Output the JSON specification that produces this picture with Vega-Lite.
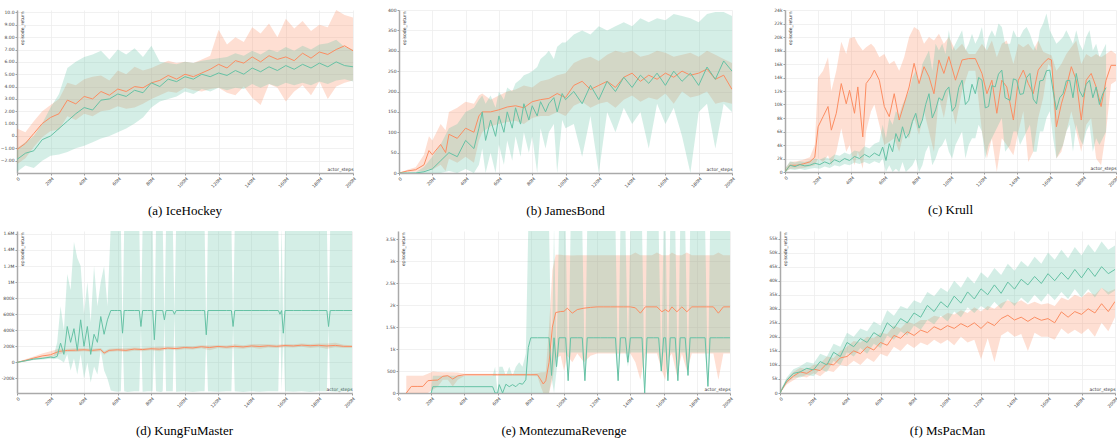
{
"$schema":"https://vega.github.io/schema/vega-lite/v6.json",
"padding":{"top":7,"left":0,"right":0,"bottom":0},
"spacing":11,
"datasets":{
"a":[
{"s":"o","x":0,"m":-1.1,"l":-2.3,"h":0.6},{"s":"o","x":5,"m":-0.6,"l":-1.8,"h":0.3},{"s":"o","x":10,"m":0.2,"l":-0.9,"h":1.2},{"s":"o","x":15,"m":1.0,"l":-0.1,"h":2.0},{"s":"o","x":20,"m":1.5,"l":0.4,"h":2.5},{"s":"o","x":25,"m":1.8,"l":0.5,"h":3.0},{"s":"o","x":30,"m":2.9,"l":1.6,"h":4.3},{"s":"o","x":35,"m":2.6,"l":1.3,"h":4.1},{"s":"o","x":40,"m":3.2,"l":1.8,"h":4.6},{"s":"o","x":45,"m":3.0,"l":1.6,"h":4.8},{"s":"o","x":50,"m":3.6,"l":2.0,"h":4.9},{"s":"o","x":55,"m":3.3,"l":2.1,"h":4.5},{"s":"o","x":60,"m":3.8,"l":2.4,"h":5.3},{"s":"o","x":65,"m":3.6,"l":2.2,"h":5.0},{"s":"o","x":70,"m":4.0,"l":2.3,"h":5.6},{"s":"o","x":75,"m":3.9,"l":2.6,"h":5.3},{"s":"o","x":80,"m":4.3,"l":3.0,"h":5.5},{"s":"o","x":85,"m":4.5,"l":3.3,"h":5.8},{"s":"o","x":90,"m":4.9,"l":3.6,"h":6.1},{"s":"o","x":95,"m":4.6,"l":3.5,"h":5.9},{"s":"o","x":100,"m":5.0,"l":3.9,"h":6.0},{"s":"o","x":105,"m":4.8,"l":3.7,"h":5.9},{"s":"o","x":110,"m":5.1,"l":3.6,"h":6.2},{"s":"o","x":115,"m":5.4,"l":3.8,"h":6.5},{"s":"o","x":120,"m":5.8,"l":3.9,"h":8.6},{"s":"o","x":125,"m":5.5,"l":3.5,"h":7.4},{"s":"o","x":130,"m":6.1,"l":3.3,"h":8.0},{"s":"o","x":135,"m":5.9,"l":4.0,"h":7.6},{"s":"o","x":140,"m":6.4,"l":3.1,"h":8.8},{"s":"o","x":145,"m":6.0,"l":2.5,"h":8.3},{"s":"o","x":150,"m":6.5,"l":4.2,"h":9.1},{"s":"o","x":155,"m":6.2,"l":3.9,"h":8.0},{"s":"o","x":160,"m":6.4,"l":2.8,"h":9.5},{"s":"o","x":165,"m":6.1,"l":3.6,"h":8.7},{"s":"o","x":170,"m":6.7,"l":4.1,"h":9.3},{"s":"o","x":175,"m":6.3,"l":3.3,"h":8.5},{"s":"o","x":180,"m":6.8,"l":4.4,"h":9.0},{"s":"o","x":185,"m":6.6,"l":3.0,"h":8.8},{"s":"o","x":190,"m":7.0,"l":4.0,"h":10.2},{"s":"o","x":195,"m":7.3,"l":4.3,"h":9.8},{"s":"o","x":200,"m":6.9,"l":4.5,"h":9.6},
{"s":"g","x":0,"m":-1.9,"l":-2.9,"h":-1.0},{"s":"g","x":5,"m":-1.4,"l":-2.4,"h":-0.5},{"s":"g","x":10,"m":-1.2,"l":-2.6,"h":0.0},{"s":"g","x":15,"m":-0.3,"l":-2.0,"h":1.0},{"s":"g","x":20,"m":0.0,"l":-1.6,"h":2.3},{"s":"g","x":25,"m":0.6,"l":-1.5,"h":3.4},{"s":"g","x":30,"m":1.2,"l":-1.3,"h":5.5},{"s":"g","x":35,"m":1.8,"l":-1.0,"h":6.0},{"s":"g","x":40,"m":2.3,"l":-0.8,"h":6.4},{"s":"g","x":45,"m":2.1,"l":-0.5,"h":6.6},{"s":"g","x":50,"m":2.9,"l":-0.2,"h":6.9},{"s":"g","x":55,"m":3.0,"l":0.0,"h":6.2},{"s":"g","x":60,"m":3.4,"l":0.3,"h":7.0},{"s":"g","x":65,"m":3.2,"l":0.6,"h":6.6},{"s":"g","x":70,"m":3.7,"l":1.0,"h":7.1},{"s":"g","x":75,"m":3.5,"l":1.5,"h":6.4},{"s":"g","x":80,"m":4.3,"l":2.3,"h":7.3},{"s":"g","x":85,"m":4.0,"l":2.8,"h":6.0},{"s":"g","x":90,"m":4.6,"l":3.0,"h":5.9},{"s":"g","x":95,"m":4.4,"l":3.2,"h":5.8},{"s":"g","x":100,"m":4.8,"l":3.6,"h":6.0},{"s":"g","x":105,"m":4.6,"l":3.4,"h":5.9},{"s":"g","x":110,"m":5.0,"l":3.8,"h":6.1},{"s":"g","x":115,"m":4.8,"l":3.6,"h":6.2},{"s":"g","x":120,"m":5.1,"l":3.9,"h":6.3},{"s":"g","x":125,"m":4.9,"l":3.7,"h":6.4},{"s":"g","x":130,"m":5.3,"l":3.9,"h":6.7},{"s":"g","x":135,"m":5.0,"l":3.8,"h":6.5},{"s":"g","x":140,"m":5.5,"l":4.2,"h":6.9},{"s":"g","x":145,"m":5.2,"l":3.9,"h":6.6},{"s":"g","x":150,"m":5.6,"l":4.2,"h":7.0},{"s":"g","x":155,"m":5.3,"l":4.0,"h":6.8},{"s":"g","x":160,"m":5.7,"l":4.3,"h":7.2},{"s":"g","x":165,"m":5.4,"l":4.1,"h":6.9},{"s":"g","x":170,"m":5.8,"l":4.3,"h":7.3},{"s":"g","x":175,"m":5.5,"l":4.1,"h":7.0},{"s":"g","x":180,"m":5.9,"l":4.4,"h":7.4},{"s":"g","x":185,"m":5.6,"l":4.2,"h":7.5},{"s":"g","x":190,"m":6.0,"l":4.5,"h":7.8},{"s":"g","x":195,"m":5.7,"l":4.6,"h":7.2},{"s":"g","x":200,"m":5.6,"l":4.4,"h":7.0}
],
"b":[
{"s":"o","x":0,"m":0,"l":0,"h":0},{"s":"o","x":5,"m":5,"l":2,"h":8},{"s":"o","x":10,"m":8,"l":3,"h":14},{"s":"o","x":15,"m":20,"l":5,"h":45},{"s":"o","x":18,"m":55,"l":10,"h":90},{"s":"o","x":20,"m":45,"l":8,"h":80},{"s":"o","x":25,"m":70,"l":20,"h":120},{"s":"o","x":28,"m":50,"l":5,"h":105},{"s":"o","x":30,"m":95,"l":35,"h":150},{"s":"o","x":35,"m":85,"l":25,"h":160},{"s":"o","x":40,"m":110,"l":40,"h":175},{"s":"o","x":45,"m":100,"l":25,"h":170},{"s":"o","x":48,"m":140,"l":80,"h":190},{"s":"o","x":50,"m":150,"l":100,"h":195},{"s":"o","x":55,"m":150,"l":115,"h":180},{"s":"o","x":60,"m":155,"l":120,"h":190},{"s":"o","x":65,"m":162,"l":125,"h":200},{"s":"o","x":70,"m":165,"l":128,"h":205},{"s":"o","x":75,"m":160,"l":120,"h":215},{"s":"o","x":80,"m":175,"l":135,"h":210},{"s":"o","x":85,"m":180,"l":140,"h":225},{"s":"o","x":90,"m":183,"l":140,"h":230},{"s":"o","x":95,"m":195,"l":150,"h":240},{"s":"o","x":100,"m":185,"l":140,"h":245},{"s":"o","x":105,"m":215,"l":165,"h":270},{"s":"o","x":110,"m":225,"l":175,"h":280},{"s":"o","x":115,"m":205,"l":160,"h":285},{"s":"o","x":120,"m":215,"l":170,"h":275},{"s":"o","x":125,"m":225,"l":175,"h":290},{"s":"o","x":130,"m":210,"l":160,"h":300},{"s":"o","x":135,"m":235,"l":180,"h":295},{"s":"o","x":140,"m":245,"l":190,"h":300},{"s":"o","x":145,"m":225,"l":175,"h":285},{"s":"o","x":150,"m":240,"l":185,"h":290},{"s":"o","x":155,"m":230,"l":180,"h":300},{"s":"o","x":160,"m":245,"l":195,"h":295},{"s":"o","x":165,"m":235,"l":170,"h":285},{"s":"o","x":170,"m":250,"l":200,"h":290},{"s":"o","x":175,"m":240,"l":185,"h":295},{"s":"o","x":180,"m":245,"l":190,"h":285},{"s":"o","x":185,"m":255,"l":200,"h":300},{"s":"o","x":190,"m":230,"l":170,"h":290},{"s":"o","x":195,"m":240,"l":175,"h":280},{"s":"o","x":200,"m":205,"l":170,"h":270},
{"s":"g","x":0,"m":0,"l":0,"h":0},{"s":"g","x":5,"m":0,"l":0,"h":0},{"s":"g","x":10,"m":0,"l":0,"h":2},{"s":"g","x":15,"m":3,"l":0,"h":15},{"s":"g","x":20,"m":10,"l":0,"h":40},{"s":"g","x":25,"m":30,"l":0,"h":70},{"s":"g","x":30,"m":50,"l":5,"h":110},{"s":"g","x":35,"m":40,"l":0,"h":120},{"s":"g","x":40,"m":80,"l":10,"h":150},{"s":"g","x":45,"m":60,"l":0,"h":160},{"s":"g","x":48,"m":110,"l":20,"h":180},{"s":"g","x":50,"m":150,"l":60,"h":190},{"s":"g","x":52,"m":80,"l":0,"h":170},{"s":"g","x":55,"m":130,"l":50,"h":190},{"s":"g","x":58,"m":90,"l":0,"h":160},{"s":"g","x":60,"m":140,"l":70,"h":200},{"s":"g","x":63,"m":100,"l":20,"h":180},{"s":"g","x":65,"m":150,"l":80,"h":210},{"s":"g","x":68,"m":110,"l":30,"h":200},{"s":"g","x":70,"m":160,"l":90,"h":220},{"s":"g","x":73,"m":120,"l":40,"h":230},{"s":"g","x":75,"m":170,"l":100,"h":240},{"s":"g","x":78,"m":130,"l":50,"h":245},{"s":"g","x":80,"m":165,"l":90,"h":250},{"s":"g","x":83,"m":140,"l":0,"h":260},{"s":"g","x":85,"m":175,"l":110,"h":280},{"s":"g","x":88,"m":150,"l":60,"h":290},{"s":"g","x":90,"m":170,"l":100,"h":300},{"s":"g","x":93,"m":185,"l":120,"h":280},{"s":"g","x":95,"m":150,"l":0,"h":310},{"s":"g","x":98,"m":195,"l":130,"h":320},{"s":"g","x":100,"m":180,"l":110,"h":320},{"s":"g","x":105,"m":200,"l":120,"h":340},{"s":"g","x":110,"m":170,"l":40,"h":350},{"s":"g","x":115,"m":215,"l":140,"h":340},{"s":"g","x":120,"m":180,"l":0,"h":360},{"s":"g","x":125,"m":225,"l":150,"h":350},{"s":"g","x":130,"m":200,"l":100,"h":360},{"s":"g","x":135,"m":235,"l":160,"h":370},{"s":"g","x":140,"m":210,"l":120,"h":360},{"s":"g","x":145,"m":240,"l":150,"h":380},{"s":"g","x":150,"m":220,"l":60,"h":370},{"s":"g","x":155,"m":245,"l":170,"h":380},{"s":"g","x":160,"m":215,"l":120,"h":375},{"s":"g","x":165,"m":250,"l":160,"h":390},{"s":"g","x":170,"m":225,"l":90,"h":385},{"s":"g","x":175,"m":245,"l":0,"h":380},{"s":"g","x":180,"m":215,"l":150,"h":370},{"s":"g","x":185,"m":260,"l":170,"h":390},{"s":"g","x":190,"m":230,"l":60,"h":395},{"s":"g","x":195,"m":275,"l":170,"h":395},{"s":"g","x":200,"m":250,"l":150,"h":385}
],
"c":[
{"s":"o","x":0,"m":0,"l":0,"h":0.5},{"s":"o","x":3,"m":1.0,"l":0.5,"h":1.5},{"s":"o","x":7,"m":1.0,"l":0.5,"h":1.6},{"s":"o","x":11,"m":1.2,"l":0.6,"h":1.8},{"s":"o","x":15,"m":1.5,"l":0.8,"h":2.2},{"s":"o","x":18,"m":2.2,"l":1.0,"h":4.0},{"s":"o","x":20,"m":6.7,"l":2.0,"h":14.0},{"s":"o","x":23,"m":8.2,"l":1.5,"h":15.0},{"s":"o","x":26,"m":9.7,"l":2.5,"h":17.0},{"s":"o","x":28,"m":6.2,"l":1.0,"h":12.0},{"s":"o","x":31,"m":8.7,"l":3.0,"h":15.0},{"s":"o","x":34,"m":13.1,"l":6.5,"h":19.3},{"s":"o","x":37,"m":10.1,"l":3.0,"h":17.5},{"s":"o","x":39,"m":12.1,"l":4.0,"h":19.8},{"s":"o","x":42,"m":8.7,"l":1.0,"h":20.0},{"s":"o","x":44,"m":12.6,"l":3.0,"h":19.0},{"s":"o","x":47,"m":5.2,"l":0.5,"h":18.0},{"s":"o","x":49,"m":13.1,"l":6.0,"h":18.5},{"s":"o","x":52,"m":14.1,"l":9.0,"h":19.0},{"s":"o","x":54,"m":15.1,"l":10.0,"h":18.5},{"s":"o","x":57,"m":13.6,"l":7.0,"h":17.0},{"s":"o","x":60,"m":9.7,"l":4.0,"h":17.5},{"s":"o","x":63,"m":8.2,"l":4.5,"h":16.0},{"s":"o","x":66,"m":11.6,"l":5.0,"h":16.5},{"s":"o","x":69,"m":7.7,"l":3.0,"h":15.0},{"s":"o","x":72,"m":10.1,"l":6.0,"h":17.0},{"s":"o","x":75,"m":12.6,"l":5.0,"h":20.0},{"s":"o","x":78,"m":16.1,"l":8.0,"h":21.5},{"s":"o","x":81,"m":13.1,"l":5.5,"h":21.0},{"s":"o","x":84,"m":15.6,"l":9.0,"h":19.0},{"s":"o","x":87,"m":14.1,"l":6.0,"h":20.0},{"s":"o","x":90,"m":11.6,"l":3.0,"h":19.5},{"s":"o","x":93,"m":16.6,"l":11.0,"h":20.5},{"s":"o","x":96,"m":14.6,"l":8.0,"h":19.0},{"s":"o","x":99,"m":17.1,"l":12.0,"h":20.0},{"s":"o","x":103,"m":13.6,"l":7.0,"h":18.0},{"s":"o","x":107,"m":16.6,"l":12.0,"h":19.0},{"s":"o","x":111,"m":16.8,"l":15.0,"h":17.5},{"s":"o","x":115,"m":16.8,"l":15.0,"h":17.5},{"s":"o","x":119,"m":14.6,"l":6.0,"h":19.0},{"s":"o","x":122,"m":11.6,"l":2.0,"h":18.0},{"s":"o","x":125,"m":13.6,"l":5.0,"h":19.5},{"s":"o","x":128,"m":8.7,"l":0.0,"h":17.0},{"s":"o","x":131,"m":13.6,"l":5.0,"h":19.0},{"s":"o","x":134,"m":12.6,"l":4.0,"h":19.5},{"s":"o","x":138,"m":7.7,"l":2.5,"h":16.0},{"s":"o","x":141,"m":13.6,"l":6.0,"h":19.0},{"s":"o","x":144,"m":15.1,"l":9.0,"h":18.5},{"s":"o","x":147,"m":13.1,"l":1.5,"h":19.0},{"s":"o","x":150,"m":11.6,"l":3.0,"h":18.0},{"s":"o","x":153,"m":15.1,"l":8.0,"h":19.5},{"s":"o","x":156,"m":16.1,"l":11.0,"h":17.8},{"s":"o","x":159,"m":16.8,"l":16.0,"h":17.5},{"s":"o","x":161,"m":16.6,"l":15.5,"h":17.3},{"s":"o","x":164,"m":6.7,"l":2.0,"h":15.0},{"s":"o","x":167,"m":10.1,"l":3.0,"h":16.0},{"s":"o","x":170,"m":12.6,"l":6.0,"h":17.5},{"s":"o","x":173,"m":15.6,"l":9.0,"h":18.5},{"s":"o","x":176,"m":13.6,"l":6.0,"h":19.5},{"s":"o","x":179,"m":7.7,"l":3.0,"h":16.0},{"s":"o","x":182,"m":13.6,"l":7.0,"h":17.5},{"s":"o","x":185,"m":14.6,"l":8.0,"h":17.0},{"s":"o","x":188,"m":12.6,"l":2.0,"h":17.5},{"s":"o","x":191,"m":9.7,"l":1.0,"h":17.0},{"s":"o","x":194,"m":13.6,"l":6.0,"h":17.5},{"s":"o","x":197,"m":15.8,"l":13.0,"h":18.0},{"s":"o","x":200,"m":15.8,"l":13.5,"h":17.5},
{"s":"g","x":0,"m":0,"l":0,"h":0.5},{"s":"g","x":3,"m":1.0,"l":0.4,"h":1.6},{"s":"g","x":6,"m":0.8,"l":0.3,"h":1.4},{"s":"g","x":9,"m":1.1,"l":0.5,"h":1.6},{"s":"g","x":12,"m":0.9,"l":0.3,"h":1.5},{"s":"g","x":15,"m":1.0,"l":0.5,"h":1.7},{"s":"g","x":18,"m":1.3,"l":0.6,"h":2.0},{"s":"g","x":21,"m":1.1,"l":0.5,"h":1.8},{"s":"g","x":24,"m":1.5,"l":0.8,"h":2.2},{"s":"g","x":27,"m":1.2,"l":0.6,"h":2.0},{"s":"g","x":30,"m":1.8,"l":1.0,"h":2.6},{"s":"g","x":33,"m":1.5,"l":0.8,"h":2.4},{"s":"g","x":36,"m":2.0,"l":1.2,"h":2.9},{"s":"g","x":39,"m":1.7,"l":1.0,"h":2.6},{"s":"g","x":42,"m":2.3,"l":1.4,"h":3.2},{"s":"g","x":45,"m":2.0,"l":1.2,"h":3.0},{"s":"g","x":48,"m":2.6,"l":1.5,"h":3.8},{"s":"g","x":51,"m":2.2,"l":1.2,"h":3.5},{"s":"g","x":54,"m":2.8,"l":1.6,"h":4.2},{"s":"g","x":57,"m":2.4,"l":1.3,"h":4.5},{"s":"g","x":59,"m":3.7,"l":2.0,"h":7.0},{"s":"g","x":61,"m":1.7,"l":0.0,"h":5.0},{"s":"g","x":63,"m":4.2,"l":1.0,"h":8.0},{"s":"g","x":65,"m":3.0,"l":0.0,"h":7.0},{"s":"g","x":67,"m":5.7,"l":0.5,"h":9.0},{"s":"g","x":69,"m":4.5,"l":0.0,"h":8.5},{"s":"g","x":71,"m":6.7,"l":1.5,"h":10.0},{"s":"g","x":73,"m":5.0,"l":0.0,"h":11.0},{"s":"g","x":75,"m":5.7,"l":0.5,"h":12.0},{"s":"g","x":77,"m":7.5,"l":1.0,"h":14.0},{"s":"g","x":79,"m":8.7,"l":2.0,"h":15.0},{"s":"g","x":81,"m":6.5,"l":0.0,"h":13.0},{"s":"g","x":83,"m":7.7,"l":1.0,"h":16.0},{"s":"g","x":85,"m":10.0,"l":3.0,"h":17.0},{"s":"g","x":87,"m":11.6,"l":4.0,"h":18.0},{"s":"g","x":89,"m":8.0,"l":1.0,"h":15.0},{"s":"g","x":91,"m":9.2,"l":2.0,"h":19.0},{"s":"g","x":93,"m":11.0,"l":3.5,"h":18.0},{"s":"g","x":95,"m":10.6,"l":4.0,"h":19.0},{"s":"g","x":97,"m":12.0,"l":5.0,"h":17.5},{"s":"g","x":99,"m":12.6,"l":3.0,"h":21.0},{"s":"g","x":101,"m":9.0,"l":2.0,"h":18.0},{"s":"g","x":103,"m":9.7,"l":4.0,"h":19.0},{"s":"g","x":105,"m":12.5,"l":5.0,"h":20.0},{"s":"g","x":107,"m":13.6,"l":6.0,"h":21.0},{"s":"g","x":109,"m":10.0,"l":2.0,"h":18.0},{"s":"g","x":111,"m":10.6,"l":4.0,"h":19.0},{"s":"g","x":113,"m":13.0,"l":5.0,"h":20.5},{"s":"g","x":115,"m":11.6,"l":5.0,"h":19.0},{"s":"g","x":117,"m":14.0,"l":7.0,"h":20.0},{"s":"g","x":119,"m":13.6,"l":6.0,"h":21.5},{"s":"g","x":121,"m":9.5,"l":2.0,"h":18.0},{"s":"g","x":123,"m":9.7,"l":4.0,"h":20.0},{"s":"g","x":125,"m":12.8,"l":5.0,"h":21.0},{"s":"g","x":127,"m":12.6,"l":6.0,"h":20.0},{"s":"g","x":129,"m":14.5,"l":7.0,"h":22.0},{"s":"g","x":131,"m":15.1,"l":8.0,"h":21.5},{"s":"g","x":133,"m":11.0,"l":3.0,"h":19.0},{"s":"g","x":136,"m":10.6,"l":4.0,"h":19.0},{"s":"g","x":138,"m":13.8,"l":6.0,"h":21.0},{"s":"g","x":140,"m":13.6,"l":6.0,"h":20.0},{"s":"g","x":142,"m":11.5,"l":4.0,"h":20.0},{"s":"g","x":144,"m":11.6,"l":5.0,"h":21.0},{"s":"g","x":146,"m":14.0,"l":6.0,"h":21.5},{"s":"g","x":148,"m":14.6,"l":7.0,"h":20.5},{"s":"g","x":150,"m":10.8,"l":3.0,"h":19.0},{"s":"g","x":152,"m":10.1,"l":3.0,"h":18.0},{"s":"g","x":154,"m":13.5,"l":6.0,"h":21.0},{"s":"g","x":156,"m":13.6,"l":6.0,"h":22.0},{"s":"g","x":158,"m":15.0,"l":8.0,"h":23.5},{"s":"g","x":160,"m":15.1,"l":9.0,"h":21.0},{"s":"g","x":162,"m":12.0,"l":5.0,"h":20.0},{"s":"g","x":164,"m":9.2,"l":2.0,"h":19.0},{"s":"g","x":166,"m":11.0,"l":3.0,"h":19.5},{"s":"g","x":168,"m":11.6,"l":4.0,"h":20.0},{"s":"g","x":170,"m":13.5,"l":6.0,"h":21.0},{"s":"g","x":172,"m":13.6,"l":7.0,"h":20.0},{"s":"g","x":174,"m":11.0,"l":3.0,"h":19.0},{"s":"g","x":176,"m":14.6,"l":7.0,"h":21.0},{"s":"g","x":178,"m":12.0,"l":5.0,"h":19.0},{"s":"g","x":180,"m":11.1,"l":4.0,"h":18.0},{"s":"g","x":182,"m":13.0,"l":6.0,"h":20.0},{"s":"g","x":184,"m":13.6,"l":7.0,"h":21.0},{"s":"g","x":186,"m":11.0,"l":3.0,"h":18.0},{"s":"g","x":188,"m":12.6,"l":5.0,"h":19.0},{"s":"g","x":190,"m":10.0,"l":4.0,"h":17.0},{"s":"g","x":192,"m":11.6,"l":5.0,"h":18.0},{"s":"g","x":194,"m":12.5,"l":6.0,"h":19.0}
],
"d":[
{"s":"o","x":0,"m":0,"l":-5,"h":5},{"s":"o","x":5,"m":25,"l":10,"h":40},{"s":"o","x":10,"m":54,"l":35,"h":75},{"s":"o","x":15,"m":80,"l":55,"h":110},{"s":"o","x":20,"m":95,"l":60,"h":140},{"s":"o","x":25,"m":137,"l":100,"h":170},{"s":"o","x":30,"m":149,"l":130,"h":170},{"s":"o","x":35,"m":152,"l":130,"h":175},{"s":"o","x":40,"m":157,"l":140,"h":175},{"s":"o","x":45,"m":150,"l":130,"h":170},{"s":"o","x":50,"m":160,"l":140,"h":180},{"s":"o","x":52,"m":116,"l":95,"h":140},{"s":"o","x":55,"m":150,"l":130,"h":170},{"s":"o","x":60,"m":157,"l":140,"h":175},{"s":"o","x":65,"m":150,"l":130,"h":175},{"s":"o","x":70,"m":166,"l":145,"h":185},{"s":"o","x":75,"m":160,"l":140,"h":180},{"s":"o","x":80,"m":170,"l":150,"h":190},{"s":"o","x":85,"m":165,"l":140,"h":195},{"s":"o","x":90,"m":178,"l":160,"h":195},{"s":"o","x":95,"m":172,"l":150,"h":195},{"s":"o","x":100,"m":185,"l":165,"h":205},{"s":"o","x":105,"m":180,"l":160,"h":200},{"s":"o","x":110,"m":195,"l":175,"h":215},{"s":"o","x":115,"m":185,"l":150,"h":210},{"s":"o","x":120,"m":199,"l":180,"h":215},{"s":"o","x":125,"m":190,"l":170,"h":210},{"s":"o","x":130,"m":200,"l":175,"h":225},{"s":"o","x":135,"m":192,"l":170,"h":215},{"s":"o","x":140,"m":205,"l":185,"h":225},{"s":"o","x":145,"m":198,"l":170,"h":230},{"s":"o","x":150,"m":207,"l":185,"h":225},{"s":"o","x":155,"m":200,"l":180,"h":220},{"s":"o","x":160,"m":210,"l":190,"h":230},{"s":"o","x":165,"m":205,"l":185,"h":225},{"s":"o","x":170,"m":215,"l":195,"h":235},{"s":"o","x":175,"m":208,"l":180,"h":230},{"s":"o","x":180,"m":213,"l":190,"h":235},{"s":"o","x":185,"m":205,"l":170,"h":235},{"s":"o","x":190,"m":212,"l":190,"h":245},{"s":"o","x":195,"m":200,"l":180,"h":220},{"s":"o","x":200,"m":199,"l":180,"h":215},
{"s":"g","x":0,"m":0,"l":-5,"h":5},{"s":"g","x":5,"m":20,"l":10,"h":30},{"s":"g","x":10,"m":41,"l":30,"h":55},{"s":"g","x":15,"m":50,"l":35,"h":65},{"s":"g","x":20,"m":66,"l":45,"h":80},{"s":"g","x":22,"m":60,"l":40,"h":90},{"s":"g","x":24,"m":75,"l":50,"h":250},{"s":"g","x":26,"m":240,"l":30,"h":700},{"s":"g","x":28,"m":100,"l":0,"h":400},{"s":"g","x":30,"m":447,"l":100,"h":1100},{"s":"g","x":32,"m":250,"l":-100,"h":900},{"s":"g","x":34,"m":420,"l":50,"h":1500},{"s":"g","x":36,"m":150,"l":-150,"h":1300},{"s":"g","x":38,"m":530,"l":100,"h":1200},{"s":"g","x":40,"m":200,"l":-200,"h":600},{"s":"g","x":42,"m":447,"l":0,"h":1000},{"s":"g","x":44,"m":100,"l":-250,"h":500},{"s":"g","x":46,"m":350,"l":-50,"h":1200},{"s":"g","x":48,"m":250,"l":-150,"h":700},{"s":"g","x":50,"m":571,"l":150,"h":1000},{"s":"g","x":52,"m":350,"l":-100,"h":1200},{"s":"g","x":54,"m":530,"l":-200,"h":700},{"s":"g","x":56,"m":646,"l":-350,"h":1700},{"s":"g","x":58,"m":646,"l":-360,"h":1700},{"s":"g","x":60,"m":646,"l":-365,"h":1700},{"s":"g","x":62,"m":646,"l":-360,"h":1700},{"s":"g","x":63,"m":364,"l":350,"h":380},{"s":"g","x":64,"m":646,"l":-360,"h":1700},{"s":"g","x":66,"m":646,"l":-370,"h":1700},{"s":"g","x":70,"m":646,"l":-360,"h":1700},{"s":"g","x":73,"m":646,"l":-360,"h":1700},{"s":"g","x":74,"m":447,"l":430,"h":460},{"s":"g","x":75,"m":646,"l":-365,"h":1700},{"s":"g","x":78,"m":646,"l":-360,"h":1700},{"s":"g","x":81,"m":646,"l":-360,"h":1700},{"s":"g","x":82,"m":282,"l":270,"h":300},{"s":"g","x":83,"m":646,"l":-360,"h":1700},{"s":"g","x":86,"m":646,"l":-370,"h":1700},{"s":"g","x":87,"m":646,"l":-360,"h":1700},{"s":"g","x":88,"m":530,"l":520,"h":540},{"s":"g","x":89,"m":646,"l":-360,"h":1700},{"s":"g","x":93,"m":646,"l":-360,"h":1700},{"s":"g","x":94,"m":600,"l":590,"h":610},{"s":"g","x":95,"m":646,"l":-365,"h":1700},{"s":"g","x":100,"m":646,"l":-360,"h":1700},{"s":"g","x":105,"m":646,"l":-370,"h":1700},{"s":"g","x":110,"m":646,"l":-360,"h":1700},{"s":"g","x":112,"m":646,"l":-360,"h":1700},{"s":"g","x":113,"m":344,"l":335,"h":355},{"s":"g","x":114,"m":646,"l":-360,"h":1700},{"s":"g","x":120,"m":646,"l":-365,"h":1700},{"s":"g","x":125,"m":646,"l":-360,"h":1700},{"s":"g","x":128,"m":646,"l":-360,"h":1700},{"s":"g","x":129,"m":447,"l":440,"h":455},{"s":"g","x":130,"m":646,"l":-360,"h":1700},{"s":"g","x":135,"m":646,"l":-370,"h":1700},{"s":"g","x":140,"m":646,"l":-360,"h":1700},{"s":"g","x":145,"m":646,"l":-365,"h":1700},{"s":"g","x":150,"m":646,"l":-360,"h":1700},{"s":"g","x":156,"m":646,"l":-360,"h":1700},{"s":"g","x":157,"m":600,"l":590,"h":610},{"s":"g","x":158,"m":646,"l":-360,"h":1700},{"s":"g","x":159,"m":364,"l":355,"h":375},{"s":"g","x":160,"m":646,"l":-360,"h":1700},{"s":"g","x":165,"m":646,"l":-365,"h":1700},{"s":"g","x":170,"m":646,"l":-360,"h":1700},{"s":"g","x":175,"m":646,"l":-370,"h":1700},{"s":"g","x":180,"m":646,"l":-360,"h":1700},{"s":"g","x":185,"m":646,"l":-360,"h":1700},{"s":"g","x":186,"m":447,"l":440,"h":455},{"s":"g","x":187,"m":646,"l":-360,"h":1700},{"s":"g","x":190,"m":646,"l":-365,"h":1700},{"s":"g","x":195,"m":646,"l":-360,"h":1700},{"s":"g","x":200,"m":646,"l":-360,"h":1700}
],
"e":[
{"s":"o","x":5,"m":0,"l":0,"h":394},{"s":"o","x":8,"m":150,"l":0,"h":394},{"s":"o","x":12,"m":150,"l":0,"h":394},{"s":"o","x":15,"m":150,"l":0,"h":394},{"s":"o","x":18,"m":280,"l":0,"h":440},{"s":"o","x":21,"m":290,"l":80,"h":490},{"s":"o","x":24,"m":295,"l":150,"h":480},{"s":"o","x":27,"m":380,"l":300,"h":470},{"s":"o","x":30,"m":394,"l":300,"h":470},{"s":"o","x":33,"m":318,"l":150,"h":470},{"s":"o","x":36,"m":390,"l":300,"h":465},{"s":"o","x":40,"m":417,"l":390,"h":440},{"s":"o","x":50,"m":417,"l":390,"h":440},{"s":"o","x":60,"m":417,"l":390,"h":440},{"s":"o","x":70,"m":417,"l":390,"h":440},{"s":"o","x":80,"m":417,"l":390,"h":440},{"s":"o","x":84,"m":417,"l":380,"h":450},{"s":"o","x":86,"m":300,"l":150,"h":470},{"s":"o","x":87.5,"m":205,"l":0,"h":470},{"s":"o","x":89,"m":280,"l":0,"h":480},{"s":"o","x":91,"m":700,"l":0,"h":1500},{"s":"o","x":93,"m":1500,"l":300,"h":2800},{"s":"o","x":95,"m":1833,"l":800,"h":3150},{"s":"o","x":98,"m":1856,"l":850,"h":3150},{"s":"o","x":100,"m":1860,"l":500,"h":3140},{"s":"o","x":102,"m":1932,"l":850,"h":3140},{"s":"o","x":105,"m":1818,"l":700,"h":3130},{"s":"o","x":108,"m":1900,"l":900,"h":3140},{"s":"o","x":112,"m":1932,"l":700,"h":3140},{"s":"o","x":116,"m":1950,"l":850,"h":3140},{"s":"o","x":120,"m":1962,"l":900,"h":3140},{"s":"o","x":124,"m":1962,"l":900,"h":3140},{"s":"o","x":128,"m":1962,"l":900,"h":3140},{"s":"o","x":132,"m":1962,"l":900,"h":3140},{"s":"o","x":136,"m":1962,"l":900,"h":3140},{"s":"o","x":140,"m":1962,"l":900,"h":3140},{"s":"o","x":143,"m":1940,"l":700,"h":3200},{"s":"o","x":146,"m":1818,"l":300,"h":3140},{"s":"o","x":149,"m":1962,"l":900,"h":3140},{"s":"o","x":153,"m":1962,"l":900,"h":3140},{"s":"o","x":156,"m":1962,"l":900,"h":3200},{"s":"o","x":159,"m":1850,"l":500,"h":3140},{"s":"o","x":161,"m":1900,"l":300,"h":3140},{"s":"o","x":163,"m":1850,"l":800,"h":3140},{"s":"o","x":165,"m":1962,"l":900,"h":3200},{"s":"o","x":168,"m":1850,"l":400,"h":3140},{"s":"o","x":171,"m":1962,"l":900,"h":3140},{"s":"o","x":174,"m":1850,"l":500,"h":3200},{"s":"o","x":177,"m":1962,"l":900,"h":3140},{"s":"o","x":182,"m":1962,"l":900,"h":3140},{"s":"o","x":186,"m":1962,"l":900,"h":3140},{"s":"o","x":190,"m":1962,"l":900,"h":3140},{"s":"o","x":193,"m":1818,"l":300,"h":3200},{"s":"o","x":196,"m":1962,"l":900,"h":3140},{"s":"o","x":200,"m":1962,"l":900,"h":3140},
{"s":"g","x":20,"m":0,"l":0,"h":100},{"s":"g","x":21,"m":144,"l":0,"h":394},{"s":"g","x":30,"m":144,"l":0,"h":394},{"s":"g","x":40,"m":144,"l":0,"h":394},{"s":"g","x":50,"m":144,"l":0,"h":394},{"s":"g","x":57,"m":144,"l":0,"h":394},{"s":"g","x":58.5,"m":0,"l":0,"h":600},{"s":"g","x":60,"m":0,"l":0,"h":0},{"s":"g","x":61,"m":190,"l":0,"h":600},{"s":"g","x":63,"m":0,"l":0,"h":600},{"s":"g","x":65,"m":200,"l":0,"h":394},{"s":"g","x":67,"m":144,"l":0,"h":600},{"s":"g","x":69,"m":190,"l":0,"h":394},{"s":"g","x":71,"m":144,"l":0,"h":600},{"s":"g","x":73,"m":220,"l":0,"h":700},{"s":"g","x":75,"m":200,"l":0,"h":600},{"s":"g","x":77,"m":300,"l":0,"h":900},{"s":"g","x":78.5,"m":1038,"l":0,"h":3800},{"s":"g","x":80,"m":1258,"l":0,"h":3800},{"s":"g","x":84,"m":1258,"l":0,"h":3800},{"s":"g","x":88,"m":1258,"l":0,"h":3800},{"s":"g","x":91,"m":1258,"l":0,"h":3800},{"s":"g","x":92.5,"m":400,"l":350,"h":450},{"s":"g","x":94,"m":1258,"l":0,"h":3800},{"s":"g","x":95.5,"m":600,"l":500,"h":700},{"s":"g","x":97,"m":1258,"l":924,"h":3800},{"s":"g","x":101,"m":1258,"l":924,"h":3800},{"s":"g","x":102.5,"m":280,"l":280,"h":280},{"s":"g","x":104,"m":1258,"l":924,"h":3800},{"s":"g","x":108,"m":1258,"l":924,"h":3800},{"s":"g","x":111,"m":1258,"l":924,"h":3800},{"s":"g","x":112.6,"m":280,"l":280,"h":280},{"s":"g","x":114,"m":1258,"l":924,"h":3800},{"s":"g","x":118,"m":1258,"l":924,"h":3800},{"s":"g","x":122,"m":1258,"l":924,"h":3800},{"s":"g","x":126,"m":1258,"l":924,"h":3800},{"s":"g","x":131,"m":1258,"l":924,"h":3800},{"s":"g","x":132.6,"m":280,"l":280,"h":280},{"s":"g","x":134,"m":1258,"l":924,"h":3800},{"s":"g","x":137,"m":1258,"l":924,"h":3800},{"s":"g","x":138.5,"m":700,"l":600,"h":800},{"s":"g","x":140,"m":1258,"l":924,"h":3800},{"s":"g","x":144,"m":1258,"l":924,"h":3800},{"s":"g","x":147,"m":1258,"l":924,"h":3800},{"s":"g","x":148.6,"m":0,"l":0,"h":0},{"s":"g","x":150,"m":1258,"l":924,"h":3800},{"s":"g","x":154,"m":1258,"l":924,"h":3800},{"s":"g","x":157,"m":1258,"l":924,"h":3800},{"s":"g","x":158.6,"m":500,"l":450,"h":550},{"s":"g","x":160,"m":1258,"l":924,"h":3800},{"s":"g","x":161.2,"m":1258,"l":924,"h":3800},{"s":"g","x":162.6,"m":280,"l":280,"h":280},{"s":"g","x":164,"m":1258,"l":924,"h":3800},{"s":"g","x":167,"m":1258,"l":924,"h":3800},{"s":"g","x":168.6,"m":280,"l":280,"h":280},{"s":"g","x":170,"m":1258,"l":924,"h":3800},{"s":"g","x":173,"m":1258,"l":924,"h":3800},{"s":"g","x":174.7,"m":400,"l":380,"h":420},{"s":"g","x":176,"m":1258,"l":924,"h":3800},{"s":"g","x":180,"m":1258,"l":924,"h":3800},{"s":"g","x":185,"m":1258,"l":924,"h":3800},{"s":"g","x":186.7,"m":150,"l":150,"h":150},{"s":"g","x":188,"m":1258,"l":924,"h":3800},{"s":"g","x":192,"m":1258,"l":924,"h":3800},{"s":"g","x":196,"m":1258,"l":924,"h":3800},{"s":"g","x":200,"m":1258,"l":924,"h":3800}
],
"f":[
{"s":"o","x":0,"m":0,"l":0,"h":0.5},{"s":"o","x":4,"m":4.0,"l":3.0,"h":5.0},{"s":"o","x":8,"m":6.0,"l":4.5,"h":7.5},{"s":"o","x":12,"m":7.5,"l":6.0,"h":9.0},{"s":"o","x":16,"m":7.0,"l":5.5,"h":8.5},{"s":"o","x":20,"m":8.5,"l":7.0,"h":10.0},{"s":"o","x":24,"m":8.0,"l":6.0,"h":10.5},{"s":"o","x":28,"m":10.5,"l":8.0,"h":13.0},{"s":"o","x":32,"m":10.0,"l":7.5,"h":12.5},{"s":"o","x":36,"m":12.5,"l":10.0,"h":15.0},{"s":"o","x":40,"m":13.0,"l":9.5,"h":16.5},{"s":"o","x":44,"m":15.0,"l":11.5,"h":18.5},{"s":"o","x":48,"m":14.0,"l":10.0,"h":18.0},{"s":"o","x":52,"m":16.5,"l":12.5,"h":20.0},{"s":"o","x":56,"m":15.3,"l":11.0,"h":19.5},{"s":"o","x":60,"m":18.0,"l":14.0,"h":21.5},{"s":"o","x":64,"m":17.0,"l":13.0,"h":21.0},{"s":"o","x":68,"m":20.5,"l":16.5,"h":24.0},{"s":"o","x":72,"m":19.5,"l":15.0,"h":23.0},{"s":"o","x":76,"m":21.8,"l":17.5,"h":25.5},{"s":"o","x":80,"m":20.5,"l":16.0,"h":24.5},{"s":"o","x":84,"m":22.4,"l":18.0,"h":26.0},{"s":"o","x":88,"m":21.5,"l":17.0,"h":26.0},{"s":"o","x":92,"m":23.6,"l":19.0,"h":27.5},{"s":"o","x":96,"m":22.5,"l":17.5,"h":27.0},{"s":"o","x":100,"m":24.0,"l":19.0,"h":28.5},{"s":"o","x":104,"m":23.0,"l":17.0,"h":28.0},{"s":"o","x":108,"m":24.7,"l":20.0,"h":29.5},{"s":"o","x":112,"m":23.5,"l":18.0,"h":28.5},{"s":"o","x":116,"m":25.0,"l":19.0,"h":30.5},{"s":"o","x":120,"m":23.0,"l":12.0,"h":29.0},{"s":"o","x":124,"m":25.3,"l":19.5,"h":31.0},{"s":"o","x":128,"m":24.0,"l":11.0,"h":30.0},{"s":"o","x":132,"m":26.5,"l":20.5,"h":32.0},{"s":"o","x":136,"m":27.7,"l":22.0,"h":33.0},{"s":"o","x":140,"m":26.0,"l":20.0,"h":32.0},{"s":"o","x":144,"m":27.0,"l":21.0,"h":33.0},{"s":"o","x":148,"m":25.5,"l":15.0,"h":31.5},{"s":"o","x":152,"m":27.0,"l":21.5,"h":32.5},{"s":"o","x":156,"m":25.9,"l":20.0,"h":31.5},{"s":"o","x":160,"m":26.5,"l":20.0,"h":32.0},{"s":"o","x":164,"m":25.0,"l":19.0,"h":31.0},{"s":"o","x":168,"m":28.9,"l":23.0,"h":34.0},{"s":"o","x":172,"m":27.0,"l":21.0,"h":33.0},{"s":"o","x":176,"m":29.0,"l":22.5,"h":35.0},{"s":"o","x":180,"m":28.0,"l":21.0,"h":34.0},{"s":"o","x":184,"m":30.0,"l":23.0,"h":36.0},{"s":"o","x":188,"m":28.5,"l":20.0,"h":35.0},{"s":"o","x":192,"m":31.8,"l":25.0,"h":37.5},{"s":"o","x":196,"m":29.0,"l":22.0,"h":36.0},{"s":"o","x":200,"m":32.6,"l":27.0,"h":37.0},
{"s":"g","x":0,"m":0,"l":0,"h":0.5},{"s":"g","x":4,"m":4.5,"l":3.5,"h":5.5},{"s":"g","x":8,"m":7.0,"l":5.5,"h":8.5},{"s":"g","x":12,"m":7.5,"l":5.5,"h":9.5},{"s":"g","x":16,"m":8.8,"l":6.5,"h":11.0},{"s":"g","x":20,"m":8.2,"l":6.0,"h":10.5},{"s":"g","x":24,"m":11.2,"l":8.5,"h":14.0},{"s":"g","x":28,"m":10.0,"l":7.5,"h":13.0},{"s":"g","x":32,"m":14.5,"l":11.5,"h":17.5},{"s":"g","x":36,"m":13.0,"l":10.0,"h":16.5},{"s":"g","x":40,"m":18.0,"l":14.5,"h":21.5},{"s":"g","x":44,"m":16.5,"l":13.0,"h":20.0},{"s":"g","x":48,"m":19.4,"l":16.0,"h":23.0},{"s":"g","x":52,"m":18.0,"l":14.0,"h":22.0},{"s":"g","x":56,"m":21.5,"l":17.5,"h":25.5},{"s":"g","x":60,"m":20.0,"l":16.0,"h":24.0},{"s":"g","x":64,"m":25.0,"l":20.5,"h":29.5},{"s":"g","x":68,"m":23.0,"l":19.0,"h":27.5},{"s":"g","x":72,"m":26.5,"l":22.0,"h":31.0},{"s":"g","x":76,"m":25.0,"l":20.5,"h":30.0},{"s":"g","x":80,"m":28.5,"l":24.0,"h":33.0},{"s":"g","x":84,"m":27.0,"l":22.5,"h":32.0},{"s":"g","x":88,"m":31.2,"l":26.0,"h":36.0},{"s":"g","x":92,"m":29.0,"l":24.5,"h":34.5},{"s":"g","x":96,"m":32.5,"l":27.5,"h":37.5},{"s":"g","x":100,"m":30.5,"l":25.5,"h":36.0},{"s":"g","x":104,"m":34.5,"l":29.0,"h":40.0},{"s":"g","x":108,"m":32.0,"l":27.0,"h":37.5},{"s":"g","x":112,"m":36.0,"l":30.5,"h":41.5},{"s":"g","x":116,"m":33.5,"l":28.5,"h":39.0},{"s":"g","x":120,"m":37.1,"l":31.0,"h":43.0},{"s":"g","x":124,"m":35.0,"l":29.5,"h":41.0},{"s":"g","x":128,"m":38.5,"l":32.5,"h":44.5},{"s":"g","x":132,"m":35.5,"l":30.0,"h":42.0},{"s":"g","x":136,"m":39.5,"l":33.5,"h":46.0},{"s":"g","x":140,"m":37.0,"l":31.0,"h":43.5},{"s":"g","x":144,"m":40.5,"l":34.0,"h":47.0},{"s":"g","x":148,"m":38.5,"l":32.0,"h":45.0},{"s":"g","x":152,"m":41.5,"l":35.0,"h":48.5},{"s":"g","x":156,"m":39.0,"l":32.5,"h":46.0},{"s":"g","x":160,"m":42.5,"l":35.5,"h":50.0},{"s":"g","x":164,"m":40.0,"l":33.0,"h":47.5},{"s":"g","x":168,"m":43.0,"l":36.0,"h":51.0},{"s":"g","x":172,"m":40.5,"l":33.5,"h":48.0},{"s":"g","x":176,"m":44.0,"l":37.0,"h":52.0},{"s":"g","x":180,"m":41.0,"l":34.0,"h":49.0},{"s":"g","x":184,"m":44.5,"l":37.0,"h":53.0},{"s":"g","x":188,"m":41.5,"l":34.0,"h":50.0},{"s":"g","x":192,"m":45.0,"l":37.5,"h":54.0},{"s":"g","x":196,"m":42.5,"l":35.0,"h":51.0},{"s":"g","x":200,"m":44.0,"l":36.5,"h":52.5}
]
},
"vconcat":[
{"spacing":37,"hconcat":[
{"spacing":30,"hconcat":[
{"width":336,"height":163,"data":{"name":"a"},"title":{"text":"(a) IceHockey"},
"encoding":{"x":{"field":"x","type":"quantitative","scale":{"domain":[0,200],"nice":false},"axis":{"values":[0,20,40,60,80,100,120,140,160,180,200],"labelExpr":"datum.value == 0 ? '0' : datum.value + 'M'","title":"actor_steps"}},
"color":{"field":"s","type":"nominal","scale":{"domain":["g","o"],"range":["#66c2a5","#fc8d62"]},"legend":null}},
"layer":[
{"mark":{"type":"area","opacity":0.28,"clip":true},"encoding":{"y":{"field":"l","type":"quantitative","scale":{"domain":[-3,10.2],"nice":false,"zero":false},"axis":{"values":[-2,-1,0,1,2,3,4,5,6,7,8,9,10],"format":".3r","title":"episode_return"}},"y2":{"field":"h"}}},
{"mark":{"type":"line","strokeWidth":1,"clip":true},"encoding":{"y":{"field":"m","type":"quantitative","scale":{"domain":[-3,10.2],"nice":false,"zero":false},"axis":{"values":[-2,-1,0,1,2,3,4,5,6,7,8,9,10],"format":".3r","title":"episode_return"}}}}
]},
{"width":333,"height":163,"data":{"name":"b"},"title":{"text":"(b) JamesBond"},
"encoding":{"x":{"field":"x","type":"quantitative","scale":{"domain":[0,200],"nice":false},"axis":{"values":[0,20,40,60,80,100,120,140,160,180,200],"labelExpr":"datum.value == 0 ? '0' : datum.value + 'M'","title":"actor_steps"}},
"color":{"field":"s","type":"nominal","scale":{"domain":["g","o"],"range":["#66c2a5","#fc8d62"]},"legend":null}},
"layer":[
{"mark":{"type":"area","opacity":0.28,"clip":true},"encoding":{"y":{"field":"l","type":"quantitative","scale":{"domain":[0,400],"nice":false},"axis":{"values":[0,50,100,150,200,250,300,350,400],"title":"episode_return"}},"y2":{"field":"h"}}},
{"mark":{"type":"line","strokeWidth":1,"clip":true},"encoding":{"y":{"field":"m","type":"quantitative","scale":{"domain":[0,400],"nice":false},"axis":{"values":[0,50,100,150,200,250,300,350,400],"title":"episode_return"}}}}
]}
]},
{"width":331,"height":162,"data":{"name":"c"},"title":{"text":"(c) Krull"},
"encoding":{"x":{"field":"x","type":"quantitative","scale":{"domain":[0,200],"nice":false},"axis":{"values":[0,20,40,60,80,100,120,140,160,180,200],"labelExpr":"datum.value == 0 ? '0' : datum.value + 'M'","title":"actor_steps"}},
"color":{"field":"s","type":"nominal","scale":{"domain":["g","o"],"range":["#66c2a5","#fc8d62"]},"legend":null}},
"layer":[
{"mark":{"type":"area","opacity":0.28,"clip":true},"encoding":{"y":{"field":"l","type":"quantitative","scale":{"domain":[0,24],"nice":false},"axis":{"values":[0,2,4,6,8,10,12,14,16,18,20,22,24],"labelExpr":"datum.value == 0 ? '0' : datum.value + 'k'","title":"episode_return"}},"y2":{"field":"h"}}},
{"mark":{"type":"line","strokeWidth":1,"clip":true},"encoding":{"y":{"field":"m","type":"quantitative","scale":{"domain":[0,24],"nice":false},"axis":{"values":[0,2,4,6,8,10,12,14,16,18,20,22,24],"labelExpr":"datum.value == 0 ? '0' : datum.value + 'k'","title":"episode_return"}}}}
]}
]},
{"spacing":34,"hconcat":[
{"spacing":29,"hconcat":[
{"width":335,"height":162,"data":{"name":"d"},"title":{"text":"(d) KungFuMaster"},
"encoding":{"x":{"field":"x","type":"quantitative","scale":{"domain":[0,200],"nice":false},"axis":{"values":[0,20,40,60,80,100,120,140,160,180,200],"labelExpr":"datum.value == 0 ? '0' : datum.value + 'M'","title":"actor_steps"}},
"color":{"field":"s","type":"nominal","scale":{"domain":["g","o"],"range":["#66c2a5","#fc8d62"]},"legend":null}},
"layer":[
{"mark":{"type":"area","opacity":0.28,"clip":true},"encoding":{"y":{"field":"l","type":"quantitative","scale":{"domain":[-381,1636],"nice":false,"zero":false},"axis":{"values":[-200,0,200,400,600,800,1000,1200,1400,1600],"labelExpr":"datum.value == 0 ? '0' : (abs(datum.value) >= 1000 ? datum.value/1000 + 'M' : datum.value + 'k')","title":"episode_return"}},"y2":{"field":"h"}}},
{"mark":{"type":"line","strokeWidth":1,"clip":true},"encoding":{"y":{"field":"m","type":"quantitative","scale":{"domain":[-381,1636],"nice":false,"zero":false},"axis":{"values":[-200,0,200,400,600,800,1000,1200,1400,1600],"labelExpr":"datum.value == 0 ? '0' : (abs(datum.value) >= 1000 ? datum.value/1000 + 'M' : datum.value + 'k')","title":"episode_return"}}}}
]},
{"width":332,"height":162,"data":{"name":"e"},"title":{"text":"(e) MontezumaRevenge"},
"encoding":{"x":{"field":"x","type":"quantitative","scale":{"domain":[0,200],"nice":false},"axis":{"values":[0,20,40,60,80,100,120,140,160,180,200],"labelExpr":"datum.value == 0 ? '0' : datum.value + 'M'","title":"actor_steps"}},
"color":{"field":"s","type":"nominal","scale":{"domain":["g","o"],"range":["#66c2a5","#fc8d62"]},"legend":null}},
"layer":[
{"mark":{"type":"area","opacity":0.28,"clip":true},"encoding":{"y":{"field":"l","type":"quantitative","scale":{"domain":[0,3690],"nice":false},"axis":{"values":[0,500,1000,1500,2000,2500,3000,3500],"labelExpr":"datum.value == 0 ? '0' : (datum.value >= 1000 ? datum.value/1000 + 'k' : datum.value + '')","title":"episode_return"}},"y2":{"field":"h"}}},
{"mark":{"type":"line","strokeWidth":1,"clip":true},"encoding":{"y":{"field":"m","type":"quantitative","scale":{"domain":[0,3690],"nice":false},"axis":{"values":[0,500,1000,1500,2000,2500,3000,3500],"labelExpr":"datum.value == 0 ? '0' : (datum.value >= 1000 ? datum.value/1000 + 'k' : datum.value + '')","title":"episode_return"}}}}
]}
]},
{"width":335,"height":162,"data":{"name":"f"},"title":{"text":"(f) MsPacMan"},
"encoding":{"x":{"field":"x","type":"quantitative","scale":{"domain":[0,200],"nice":false},"axis":{"values":[0,20,40,60,80,100,120,140,160,180,200],"labelExpr":"datum.value == 0 ? '0' : datum.value + 'M'","title":"actor_steps"}},
"color":{"field":"s","type":"nominal","scale":{"domain":["g","o"],"range":["#66c2a5","#fc8d62"]},"legend":null}},
"layer":[
{"mark":{"type":"area","opacity":0.28,"clip":true},"encoding":{"y":{"field":"l","type":"quantitative","scale":{"domain":[0,57.7],"nice":false},"axis":{"values":[0,5,10,15,20,25,30,35,40,45,50,55],"labelExpr":"datum.value == 0 ? '0' : datum.value + 'k'","title":"episode_return"}},"y2":{"field":"h"}}},
{"mark":{"type":"line","strokeWidth":1,"clip":true},"encoding":{"y":{"field":"m","type":"quantitative","scale":{"domain":[0,57.7],"nice":false},"axis":{"values":[0,5,10,15,20,25,30,35,40,45,50,55],"labelExpr":"datum.value == 0 ? '0' : datum.value + 'k'","title":"episode_return"}}}}
]}
]}
],
"config":{
"view":{"stroke":null},
"font":"DejaVu Sans",
"axis":{"labelFontSize":4.5,"labelColor":"#444","tickSize":2,"tickColor":"#999","domainColor":"#aaaaaa","domainWidth":1.5,"gridColor":"#eeeeee","gridWidth":0.8,"titleFontSize":4.5,"titleFontWeight":"normal","titleColor":"#333","labelPadding":1,"labelOverlap":false,"labelFlush":false},
"axisX":{"labelAngle":-45,"titleAnchor":"end","titleAlign":"right","titleBaseline":"bottom","titleY":-2},
"axisY":{"titleAngle":270,"titleAnchor":"end","titleAlign":"right","titleBaseline":"top","titleX":2,"titleY":1},
"title":{"orient":"bottom","font":"Liberation Serif","fontSize":13,"fontWeight":"normal","color":"#000","offset":17}
}
}
